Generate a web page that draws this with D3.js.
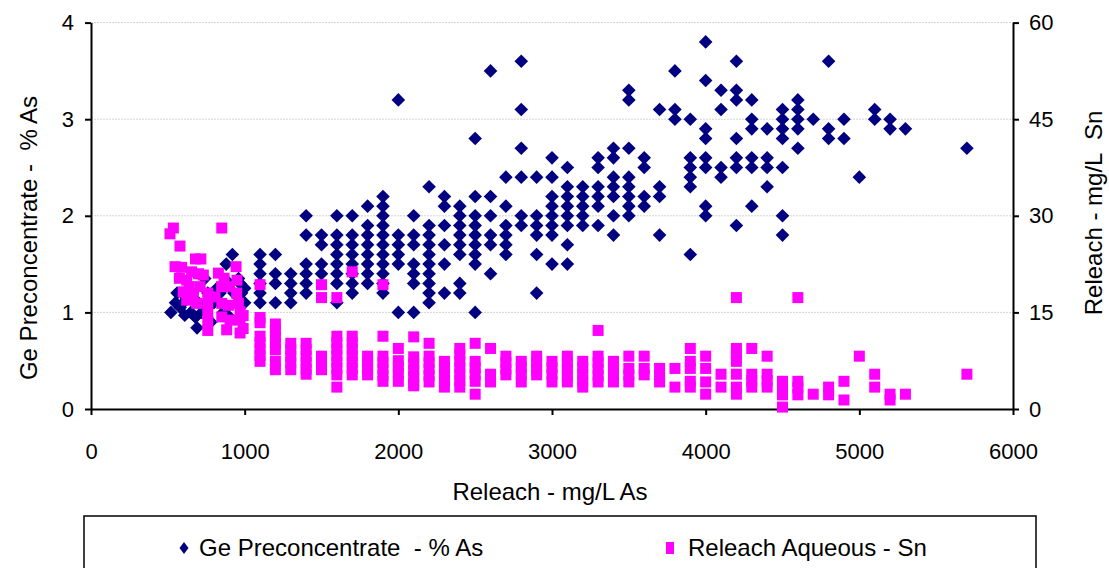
<!DOCTYPE html>
<html>
<head>
<meta charset="utf-8">
<script src="https://cdn.jsdelivr.net/npm/d3@7"></script>
<style>
  body { margin: 0; background: #fff; }
  svg text { font-family: "Liberation Sans", Arial, sans-serif; fill: #000; }
</style>
</head>
<body>
<div id="chart"></div>
<script>
// tick values
const xTicks = [0, 1000, 2000, 3000, 4000, 5000, 6000];
const leftTicks = [0, 1, 2, 3, 4];
const rightTicks = [0, 15, 30, 45, 60];

// Ge Preconcentrate - % As : loose cluster at low releach
const geClusterX = [520, 550, 560, 580, 600, 610, 620, 650, 660, 680, 690, 700, 720, 740, 760, 780, 800, 820, 840, 860, 880, 890, 900, 920, 930, 950, 960, 970, 980, 1000, 1000];
const geClusterAs = [1.0, 1.1, 1.2, 1.05, 1.1, 0.97, 1.15, 1.0, 1.2, 0.95, 0.84, 1.1, 1.0, 1.35, 1.2, 0.9, 1.1, 1.25, 1.2, 1.0, 1.5, 0.97, 1.3, 1.6, 1.2, 1.1, 1.35, 1.3, 1.2, 1.1, 1.25];

// Ge Preconcentrate - % As : columns every 100 mg/L
const geColumnX = [1100, 1200, 1300, 1400, 1500, 1600, 1700, 1800, 1900, 2000, 2100, 2200, 2300, 2400, 2500, 2600, 2700, 2800, 2900, 3000, 3100, 3200, 3300, 3400, 3500, 3600, 3700, 3800, 3900, 4000, 4100, 4200, 4300, 4400, 4500, 4600, 4700, 4800, 4900, 5000, 5100, 5200, 5300, 5700];
const geColumnAs = [
  [1.1, 1.2, 1.3, 1.4, 1.5, 1.6],
  [1.1, 1.3, 1.4, 1.6],
  [1.1, 1.2, 1.3, 1.4],
  [1.2, 1.3, 1.4, 1.5, 1.8, 2.0],
  [1.4, 1.5, 1.7, 1.8],
  [1.1, 1.3, 1.4, 1.5, 1.6, 1.7, 1.8, 2.0],
  [1.2, 1.3, 1.4, 1.5, 1.6, 1.7, 1.8, 2.0],
  [1.3, 1.4, 1.5, 1.6, 1.7, 1.8, 1.9, 2.1],
  [1.2, 1.3, 1.4, 1.5, 1.6, 1.7, 1.8, 1.9, 2.0, 2.1, 2.2],
  [1.0, 1.5, 1.6, 1.7, 1.8, 3.2],
  [1.0, 1.3, 1.4, 1.5, 1.7, 1.8, 2.0],
  [1.1, 1.2, 1.3, 1.4, 1.5, 1.6, 1.7, 1.8, 1.9, 2.3],
  [1.2, 1.5, 1.7, 1.9, 2.1, 2.2],
  [1.2, 1.3, 1.6, 1.7, 1.8, 1.9, 2.0, 2.1],
  [1.0, 1.5, 1.6, 1.7, 1.8, 1.9, 2.0, 2.2, 2.8],
  [1.4, 1.7, 1.8, 2.0, 2.2, 3.5],
  [1.6, 1.7, 1.8, 1.9, 2.1, 2.4],
  [1.9, 2.0, 2.4, 2.7, 3.1, 3.6],
  [1.2, 1.6, 1.8, 1.9, 2.0, 2.4],
  [1.5, 1.8, 1.9, 2.0, 2.1, 2.2, 2.4, 2.6],
  [1.5, 1.7, 1.9, 2.0, 2.1, 2.2, 2.3, 2.5],
  [1.9, 2.0, 2.1, 2.2, 2.3],
  [1.9, 2.1, 2.2, 2.3, 2.5, 2.6],
  [1.8, 2.0, 2.2, 2.3, 2.4, 2.6, 2.7],
  [2.0, 2.1, 2.2, 2.3, 2.4, 2.7, 3.2, 3.3],
  [2.1, 2.2, 2.5, 2.6],
  [1.8, 2.2, 2.3, 3.1],
  [3.0, 3.1, 3.5],
  [1.6, 2.3, 2.4, 2.5, 2.6, 3.0],
  [2.0, 2.1, 2.5, 2.6, 2.8, 2.9, 3.4, 3.8],
  [2.4, 2.5, 3.1, 3.3],
  [1.9, 2.5, 2.6, 2.8, 3.2, 3.3, 3.6],
  [2.1, 2.5, 2.6, 2.9, 3.0, 3.2],
  [2.3, 2.5, 2.6, 2.9],
  [1.8, 2.0, 2.5, 2.8, 2.9, 3.0, 3.1],
  [2.7, 2.9, 3.0, 3.1, 3.2],
  [3.0],
  [2.8, 2.9, 3.6],
  [2.8, 3.0],
  [2.4],
  [3.0, 3.1],
  [2.9, 3.0],
  [2.9],
  [2.7]
];

// Releach Aqueous - Sn : loose cluster at low releach
const snClusterX = [514, 536, 579, 547, 851, 680, 715, 944, 575, 600, 623, 623, 655, 666, 688, 710, 731, 760, 760, 760, 760, 760, 807, 829, 866, 851, 851, 883, 894, 905, 948, 959, 970, 970, 970, 990, 990, 850, 900, 950, 700, 640, 590];
const snClusterSn = [27.2, 28.1, 25.3, 22.1, 28.1, 23.3, 23.3, 22.1, 20.3, 18.2, 20.0, 16.9, 21.3, 17.7, 16.4, 19.0, 20.8, 18.0, 16.4, 14.9, 13.6, 12.2, 17.4, 21.1, 20.3, 16.4, 14.3, 12.3, 16.1, 13.8, 18.0, 16.4, 15.1, 13.8, 11.8, 14.5, 12.5, 19.0, 19.0, 20.0, 21.0, 19.0, 22.0];

// Releach Aqueous - Sn : columns every 100 mg/L
const snColumnX = [1100, 1200, 1300, 1400, 1500, 1600, 1700, 1800, 1900, 2000, 2100, 2200, 2300, 2400, 2500, 2600, 2700, 2800, 2900, 3000, 3100, 3200, 3300, 3400, 3500, 3600, 3700, 3800, 3900, 4000, 4100, 4200, 4300, 4400, 4500, 4600, 4700, 4800, 4900, 5000, 5100, 5200, 5300, 5700];
const snColumnSn = [
  [19.3, 14.2, 13.4, 11.3, 10.3, 9.3, 8.3, 7.4],
  [13.2, 12.2, 11.2, 10.2, 9.2, 7.4, 6.1],
  [10.2, 9.2, 8.2, 7.2, 6.1],
  [10.2, 9.2, 8.2, 7.2, 6.2, 5.4],
  [19.3, 17.3, 8.2, 7.2, 6.1],
  [17.3, 11.3, 10.3, 9.3, 8.3, 7.3, 6.3, 5.3, 3.4],
  [21.3, 11.3, 10.3, 9.3, 8.3, 7.3, 6.3, 5.3],
  [8.2, 7.2, 6.2, 5.3],
  [19.3, 11.3, 8.2, 7.2, 6.2, 5.2, 4.3],
  [9.4, 7.5, 6.5, 5.5, 4.3],
  [11.2, 8.1, 7.0, 6.0, 5.0, 4.0, 3.6],
  [10.2, 8.2, 7.2, 6.2, 5.2, 4.2],
  [7.4, 6.4, 5.4, 4.4, 3.4],
  [9.4, 8.4, 7.4, 6.4, 5.4, 4.4, 3.4],
  [10.2, 7.4, 6.4, 5.4, 4.3, 2.3],
  [9.4, 5.4, 4.2],
  [8.2, 7.2, 6.2, 5.3],
  [7.4, 6.4, 5.4, 4.2],
  [8.2, 7.2, 6.2, 5.3],
  [7.4, 6.4, 5.4, 4.2],
  [8.2, 7.2, 6.2, 5.2, 4.2],
  [7.4, 6.4, 5.4, 4.4, 3.4],
  [12.2, 8.2, 7.2, 6.2, 5.2, 4.2],
  [7.4, 6.4, 5.4, 4.2],
  [8.2, 6.3, 5.3, 4.2],
  [8.2, 6.3, 5.3],
  [6.3, 5.2, 4.2],
  [6.3, 3.4],
  [9.4, 7.4, 6.3, 4.3, 3.4],
  [8.2, 6.3, 4.2, 2.3],
  [5.4, 3.4],
  [17.3, 9.4, 8.4, 7.4, 5.4, 3.4, 2.3],
  [9.4, 5.4, 4.4, 3.4],
  [8.2, 5.4, 4.4, 3.4],
  [4.3, 3.3, 2.2, 0.3],
  [17.3, 4.3, 3.3, 2.2],
  [2.3],
  [3.4, 2.2],
  [4.3, 1.4],
  [8.2],
  [5.4, 3.4],
  [2.3, 1.4],
  [2.3],
  [5.4]
];

const width = 1109,
  height = 568,
  margin = { top: 22.6, right: 96, bottom: 159, left: 91 };

const svg = d3
  .select("#chart")
  .append("svg")
  .attr("width", width)
  .attr("height", height)
  .attr("viewBox", [0, 0, width, height]);

const x = d3
  .scaleLinear()
  .domain([0, 6000])
  .range([margin.left, width - margin.right]);

const yLeft = d3
  .scaleLinear()
  .domain([0, 4])
  .range([height - margin.bottom, margin.top]);

const yRight = d3
  .scaleLinear()
  .domain([0, 60])
  .range([height - margin.bottom, margin.top]);

// flatten columns + clusters into point lists
let gePoints = geClusterX.map((v, i) => ({ x: v, y: geClusterAs[i] }));
geColumnX.forEach((cx, i) => {
  for (let v of geColumnAs[i]) gePoints.push({ x: cx, y: v });
});
let snPoints = snClusterX.map((v, i) => ({ x: v, y: snClusterSn[i] }));
snColumnX.forEach((cx, i) => {
  for (let v of snColumnSn[i]) snPoints.push({ x: cx, y: v });
});

// gridlines
svg
  .append("g")
  .selectAll("line")
  .data(leftTicks.slice(1))
  .join("line")
  .attr("x1", x(0))
  .attr("x2", x(6000))
  .attr("y1", (d) => yLeft(d))
  .attr("y2", (d) => yLeft(d))
  .attr("stroke", "#d4d4d4")
  .attr("stroke-width", 1)
  .attr("stroke-dasharray", "2,1");

// axes
function styleAxis(g) {
  g.select(".domain").attr("stroke", "#000").attr("stroke-width", 2);
  g.selectAll(".tick line").attr("stroke", "#000").attr("stroke-width", 2);
  g.selectAll(".tick text").style("font-size", "22px");
}

const fmt = d3.format("d");

svg
  .append("g")
  .attr("transform", `translate(${x(0)},0)`)
  .call(d3.axisLeft(yLeft).tickValues(leftTicks).tickFormat(fmt).tickSize(6).tickSizeOuter(0).tickPadding(11))
  .call(styleAxis);

svg
  .append("g")
  .attr("transform", `translate(${x(6000)},0)`)
  .call(d3.axisRight(yRight).tickValues(rightTicks).tickFormat(fmt).tickSize(6).tickSizeOuter(0).tickPadding(10))
  .call(styleAxis);

svg
  .append("g")
  .attr("transform", `translate(0,${yLeft(0)})`)
  .call(d3.axisBottom(x).tickValues(xTicks).tickFormat(fmt).tickSize(6).tickSizeOuter(0).tickPadding(28))
  .call(styleAxis);

// Ge diamonds
svg
  .append("g")
  .selectAll("path")
  .data(gePoints)
  .join("path")
  .attr("d", "M0,-6.8L6.8,0L0,6.8L-6.8,0Z")
  .attr("transform", (d) => `translate(${x(d.x)},${yLeft(d.y)})`)
  .attr("fill", "#000080");

// Sn squares
svg
  .append("g")
  .selectAll("rect")
  .data(snPoints)
  .join("rect")
  .attr("x", (d) => x(d.x) - 5.5)
  .attr("y", (d) => yRight(d.y) - 5.5)
  .attr("width", 11)
  .attr("height", 11)
  .attr("fill", "#ff00ff");

// axis titles
svg
  .append("text")
  .attr("x", 550)
  .attr("y", 500)
  .attr("text-anchor", "middle")
  .style("font-size", "24px")
  .text("Releach - mg/L As");

svg
  .append("text")
  .attr("transform", "translate(37,238) rotate(-90)")
  .attr("text-anchor", "middle")
  .style("font-size", "24px")
  .style("white-space", "pre")
  .text("Ge Preconcentrate -  % As");

svg
  .append("text")
  .attr("transform", "translate(1102,213) rotate(-90)")
  .attr("text-anchor", "middle")
  .style("font-size", "24px")
  .style("white-space", "pre")
  .text("Releach - mg/L  Sn");

// legend
svg
  .append("rect")
  .attr("x", 84)
  .attr("y", 516)
  .attr("width", 952)
  .attr("height", 60)
  .attr("fill", "none")
  .attr("stroke", "#000")
  .attr("stroke-width", 1.5);

svg
  .append("path")
  .attr("d", "M0,-6L4.5,0L0,6L-4.5,0Z")
  .attr("transform", "translate(184,548)")
  .attr("fill", "#000080");

svg
  .append("text")
  .attr("x", 199)
  .attr("y", 556)
  .style("font-size", "24px")
  .style("white-space", "pre")
  .text("Ge Preconcentrate  - % As");

svg
  .append("rect")
  .attr("x", 666)
  .attr("y", 542)
  .attr("width", 8)
  .attr("height", 12)
  .attr("fill", "#ff00ff");

svg
  .append("text")
  .attr("x", 688)
  .attr("y", 556)
  .style("font-size", "24px")
  .text("Releach Aqueous - Sn");
</script>
</body>
</html>
